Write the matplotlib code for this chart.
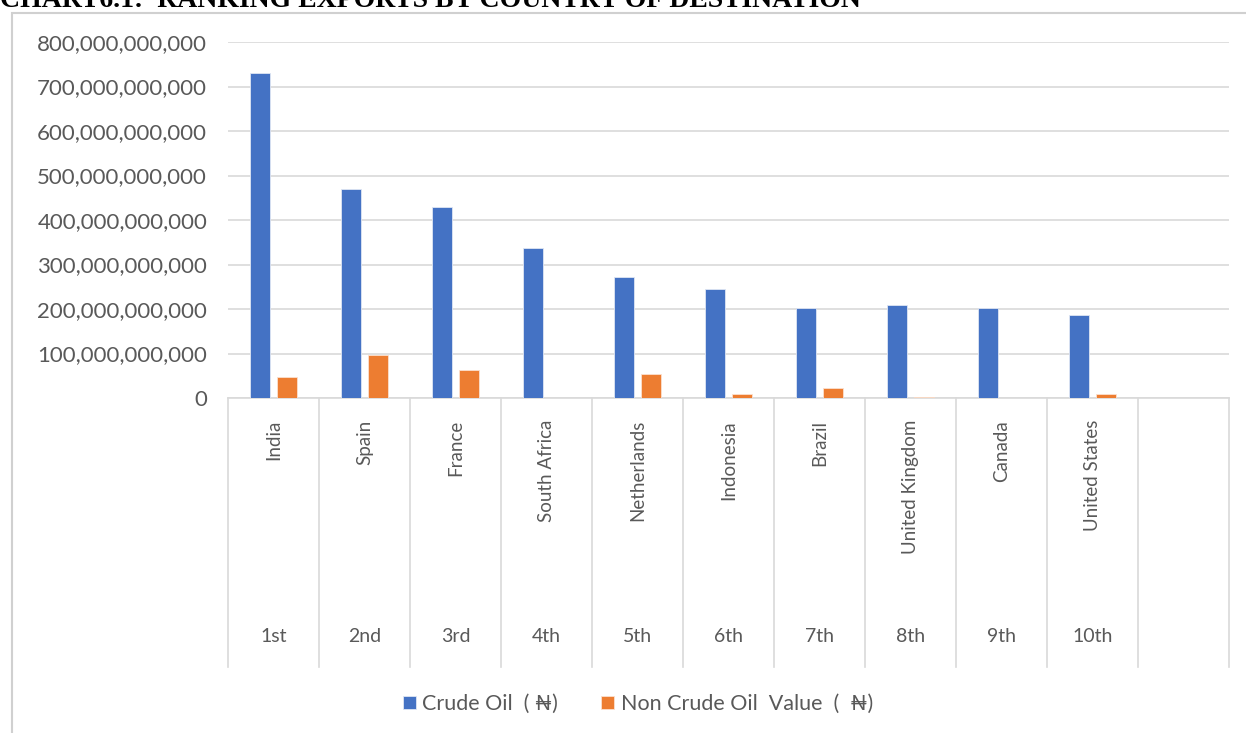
import matplotlib.pyplot as plt
from matplotlib.patches import Rectangle
from matplotlib.ticker import FuncFormatter

countries = ['India', 'Spain', 'France', 'South Africa', 'Netherlands', 'Indonesia',
             'Brazil', 'United Kingdom', 'Canada', 'United States', '']
ranks = ['1st', '2nd', '3rd', '4th', '5th', '6th', '7th', '8th', '9th', '10th', '']
crude = [730e9, 470e9, 429e9, 337e9, 272e9, 245e9, 202e9, 209e9, 202e9, 187e9, 0]
non_crude = [47e9, 97e9, 63e9, 0, 54e9, 9e9, 22e9, 3e9, 0, 9e9, 0]

fonts = ['Lato', 'DejaVu Sans']
plt.rcParams['font.family'] = fonts
grey = '#595959'
line_col = '#d9d9d9'

fig = plt.figure(figsize=(12.46, 7.33), dpi=100)
ax = fig.add_axes([228 / 1246, 1 - 398 / 733, 1001 / 1246, 356 / 733])

x = list(range(len(countries)))
w = 0.22
ax.bar([i - 0.15 for i in x], crude, w, color='#4472C4', edgecolor='#dfe6f3', linewidth=0.6, zorder=3,
       label='Crude Oil  ( \u20a6)')
ax.bar([i + 0.15 for i in x], non_crude, w, color='#ED7D31', edgecolor='#fbe0cf', linewidth=0.6, zorder=3,
       label='Non Crude Oil  Value  (  \u20a6)')

ax.set_xlim(-0.5, len(countries) - 0.5)
ax.set_ylim(0, 800e9)
ax.set_yticks([i * 100e9 for i in range(9)])
ax.yaxis.set_major_formatter(FuncFormatter(lambda v, p: f'{v:,.0f}'))
ax.tick_params(axis='y', length=0, labelsize=16, labelcolor=grey, pad=15)
ax.set_xticks([])
ax.grid(axis='y', color=line_col, linewidth=1.2, zorder=0)
for s in ['top', 'right', 'left']:
    ax.spines[s].set_visible(False)
ax.spines['bottom'].set_color(line_col)
ax.spines['bottom'].set_linewidth(1.2)

trans = ax.get_xaxis_transform()
for i in range(len(countries) + 1):
    ax.plot([i - 0.5, i - 0.5], [0, -0.7556], transform=trans, color=line_col, linewidth=1.2,
            clip_on=False)
for i in x:
    ax.text(i, -0.062, countries[i], transform=trans, rotation=90, ha='center', va='top',
            fontsize=13.5, color=grey)
    ax.text(i, -0.669, ranks[i], transform=trans, ha='center', va='center',
            fontsize=14, color=grey)

fig.legend(loc='center', bbox_to_anchor=(0.512, 1 - 704 / 733), ncol=2, frameon=False,
           fontsize=15.5, labelcolor=grey, handlelength=0.6, handleheight=0.6,
           handletextpad=0.3, columnspacing=2.0)

fig.patches.append(Rectangle((12 / 1246, -0.05), 1.1, 1.05 - 13 / 733, transform=fig.transFigure,
                             fill=False, edgecolor='#d0d0d0', linewidth=1.5))
fig.text(0.0, 1 - 7 / 733, 'CHART6.1:  RANKING EXPORTS BY COUNTRY OF DESTINATION',
         fontfamily='Liberation Serif', fontweight='bold', fontsize=20, va='baseline', ha='left')

fig.savefig('out.png', dpi=100)
